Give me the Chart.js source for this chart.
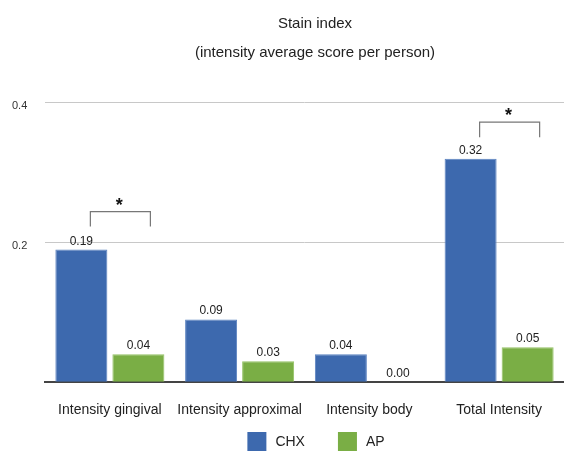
<!DOCTYPE html>
<html><head><meta charset="utf-8">
<script src="https://cdn.jsdelivr.net/npm/chart.js@4"></script>
<style>html,body{margin:0;padding:0;background:#fff}#w{width:564px;height:451px}</style>
</head><body><div id="w"><canvas id="c"></canvas></div>
<script>
const categories = ['Intensity gingival','Intensity approximal','Intensity body','Total Intensity'];
const chxValues = [0.19, 0.09, 0.04, 0.32];
const apValues = [0.04, 0.03, 0.00, 0.05];
const yTicks = [0.2, 0.4];
const sigGroups = [0, 3];
const sigLevels = [0.223, 0.351];

const FONT = '"Liberation Sans", Arial, Helvetica, sans-serif';

const labelsPlugin = {
  id: 'vals',
  afterLayout(chart) {
    const t = chart.titleBlock;
    if (t) { t.left = 66; t.right = chart.width; t.width = t.right - t.left; }
  },
  afterDatasetsDraw(chart) {
    const ctx = chart.ctx;
    ctx.save();
    ctx.font = '12px ' + FONT;
    ctx.fillStyle = '#222';
    ctx.textAlign = 'center';
    ctx.textBaseline = 'alphabetic';
    chart.data.datasets.forEach((ds, di) => {
      chart.getDatasetMeta(di).data.forEach((bar, i) => {
        ctx.fillText(ds.data[i].toFixed(2), bar.x, bar.y - 5);
      });
    });
    const y = chart.scales.y;
    sigGroups.forEach((g, k) => {
      const b1 = chart.getDatasetMeta(0).data[g];
      const b2 = chart.getDatasetMeta(1).data[g];
      const x1 = b1.x + 9, x2 = b2.x + 12;
      const yb = y.getPixelForValue(sigLevels[k]);
      const yt = yb - 15;
      ctx.strokeStyle = '#777';
      ctx.lineWidth = 1.2;
      ctx.beginPath();
      ctx.moveTo(x1, yb); ctx.lineTo(x1, yt); ctx.lineTo(x2, yt); ctx.lineTo(x2, yb);
      ctx.stroke();
      ctx.font = 'bold 18px ' + FONT;
      ctx.fillStyle = '#111';
      ctx.fillText('*', (x1 + x2) / 2 - 1, yt - 1);
    });
    ctx.restore();
  },
  afterDraw(chart) {
    const ctx = chart.ctx;
    ctx.save();
    ctx.font = '14px ' + FONT;
    const box = 19, gapText = 9, gapItem = 33;
    const items = chart.data.datasets.map(ds => ({ text: ds.label, color: ds.backgroundColor, w: box + gapText + ctx.measureText(ds.label).width }));
    const total = items.reduce((s, it) => s + it.w, 0) + gapItem * (items.length - 1);
    let x = chart.width / 2 + 34 - total / 2;
    const top = chart.height - 19;
    ctx.textBaseline = 'middle';
    ctx.textAlign = 'left';
    items.forEach(it => {
      ctx.fillStyle = it.color;
      ctx.fillRect(x, top, box, box);
      ctx.fillStyle = '#222';
      ctx.fillText(it.text, x + box + gapText, top + box / 2 + 1);
      x += it.w + gapItem;
    });
    ctx.restore();
  }
};

new Chart(document.getElementById('c'), {
  type: 'bar',
  data: {
    labels: categories,
    datasets: [
      { label: 'CHX', data: chxValues, backgroundColor: '#3d69ae', borderColor: '#5a82c0', borderWidth: 1 },
      { label: 'AP', data: apValues, backgroundColor: '#7aae45', borderColor: '#93c263', borderWidth: 1 }
    ]
  },
  options: {
    responsive: true,
    maintainAspectRatio: false,
    animation: false,
    layout: { padding: { left: 12, right: 0, top: 9, bottom: 20 } },
    datasets: { bar: { categoryPercentage: 0.879, barPercentage: 0.912 } },
    plugins: {
      title: {
        display: true,
        text: ['Stain index', '(intensity average score per person)'],
        font: { family: FONT, size: 15, weight: 'normal', lineHeight: 1.933 },
        color: '#222',
        padding: { top: 0, bottom: 36 }
      },
      legend: { display: false },
      tooltip: { enabled: false }
    },
    scales: {
      x: {
        grid: { display: false },
        border: { color: '#444', width: 2 },
        ticks: { font: { family: FONT, size: 14 }, color: '#222', padding: 12, maxRotation: 0, autoSkip: false }
      },
      y: {
        min: 0, max: 0.4,
        afterBuildTicks(scale) { scale.ticks = [0, ...yTicks].map(v => ({ value: v })); },
        afterFit(scale) { scale.width = 33; },
        grid: { color: '#c8c8c8', drawTicks: false },
        border: { display: false },
        ticks: {
          crossAlign: 'far',
          padding: 0,
          labelOffset: 3,
          font: { family: FONT, size: 11 }, color: '#333',
          callback: v => v === 0 ? '' : String(v)
        }
      }
    }
  },
  plugins: [labelsPlugin]
});
</script></body></html>
